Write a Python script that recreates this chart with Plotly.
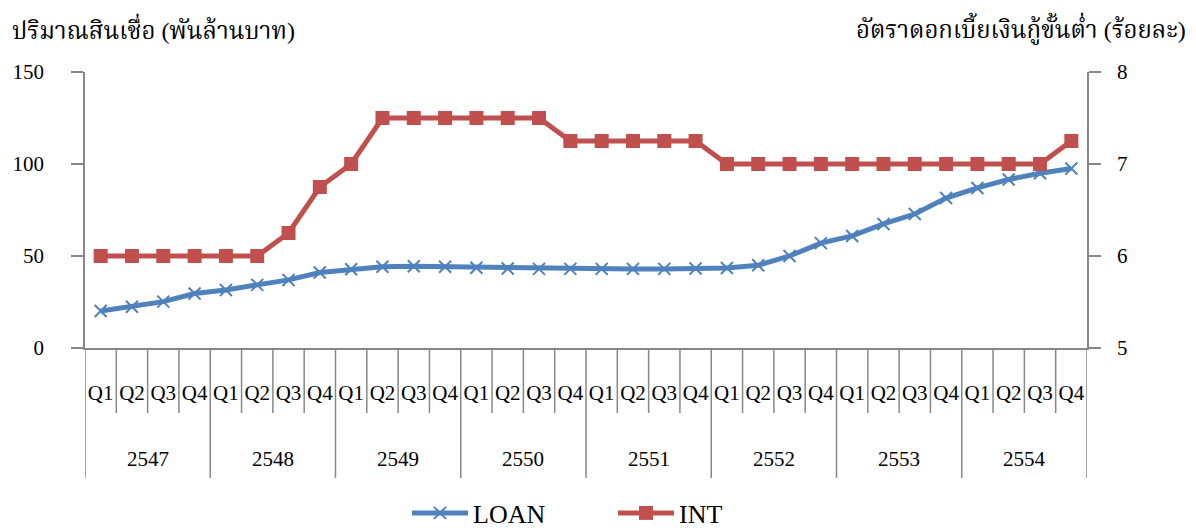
import plotly.graph_objects as go

years = ["2547", "2548", "2549", "2550", "2551", "2552", "2553", "2554"]
quarters = ["Q1", "Q2", "Q3", "Q4"]
loan = [20.1, 22.4, 25.2, 29.6, 31.5, 34.3, 37.0, 41.0,
        42.8, 44.2, 44.4, 44.2, 43.6, 43.2, 43.0, 43.0,
        43.0, 43.0, 43.0, 43.2, 43.5, 45.0, 50.0, 57.0,
        60.9, 67.4, 72.8, 81.5, 87.0, 91.6, 95.0, 97.6]
int_rate = [6.0, 6.0, 6.0, 6.0, 6.0, 6.0, 6.25, 6.75,
            7.0, 7.5, 7.5, 7.5, 7.5, 7.5, 7.5, 7.25,
            7.25, 7.25, 7.25, 7.25, 7.0, 7.0, 7.0, 7.0,
            7.0, 7.0, 7.0, 7.0, 7.0, 7.0, 7.0, 7.25]
left_title = "ปริมาณสินเชื่อ (พันล้านบาท)"
right_title = "อัตราดอกเบี้ยเงินกู้ขั้นต่ำ (ร้อยละ)"

n = len(years) * len(quarters)
xs = list(range(n))
qlabels = [q for _ in years for q in quarters]

FONT = "Liberation Serif, Times New Roman, Noto Serif Thai, serif"
AX = "#878787"
BLUE = "#4F81BD"
RED = "#C0504D"

fig = go.Figure()
fig.add_trace(go.Scatter(
    x=xs, y=loan, name="LOAN", mode="lines+markers",
    line=dict(color=BLUE, width=5),
    marker=dict(symbol="x-thin", size=12, line=dict(color=BLUE, width=2), color=BLUE),
    yaxis="y"))
fig.add_trace(go.Scatter(
    x=xs, y=int_rate, name="INT", mode="lines+markers",
    line=dict(color=RED, width=5),
    marker=dict(symbol="square", size=14, color=RED),
    yaxis="y2"))

PLOT_H = 276.0
shapes = []
for i in range(n + 1):
    is_year = (i % len(quarters) == 0)
    depth = (478 - 348) / PLOT_H if is_year else (413 - 348) / PLOT_H
    shapes.append(dict(type="line", xref="x", yref="paper",
                       x0=i - 0.5, x1=i - 0.5, y0=0, y1=-depth,
                       line=dict(color=AX, width=1.5)))

annotations = []
for k, yr in enumerate(years):
    annotations.append(dict(x=k * len(quarters) + (len(quarters) - 1) / 2, y=(348 - 459) / PLOT_H,
                            xref="x", yref="paper", text=yr, showarrow=False,
                            xanchor="center", yanchor="middle",
                            font=dict(family=FONT, size=21, color="#000")))
annotations.append(dict(x=(10 - 85) / 1002, y=1 + (72 - 29) / PLOT_H, xref="paper", yref="paper",
                        text=left_title, showarrow=False, xanchor="left", yanchor="middle",
                        font=dict(family=FONT, size=24, color="#000")))
annotations.append(dict(x=(1188 - 85) / 1002, y=1 + (72 - 29) / PLOT_H, xref="paper", yref="paper",
                        text=right_title, showarrow=False, xanchor="right", yanchor="middle",
                        font=dict(family=FONT, size=24, color="#000")))

fig.update_layout(
    width=1196, height=531,
    margin=dict(l=85, r=109, t=72, b=183, autoexpand=False),
    paper_bgcolor="white", plot_bgcolor="white",
    font=dict(family=FONT, size=21, color="#000"),
    showlegend=True,
    legend=dict(orientation="h", x=(407 - 85) / 1002, y=(348 - 513) / PLOT_H,
                xanchor="left", yanchor="middle", itemwidth=56,
                entrywidth=135, entrywidthmode="pixels",
                font=dict(family=FONT, size=26, color="#000"), bgcolor="rgba(0,0,0,0)"),
    xaxis=dict(range=[-0.5, n - 0.5], tickmode="array", tickvals=xs, ticktext=qlabels,
               showgrid=False, zeroline=False, showline=True, linecolor=AX, linewidth=1.5,
               ticks="", ticklabelstandoff=25, tickfont=dict(family=FONT, size=21, color="#000")),
    yaxis=dict(range=[0, 150], tickvals=[0, 50, 100, 150], showgrid=False, zeroline=False,
               showline=True, linecolor=AX, linewidth=1.5, ticks="outside", ticklen=12,
               tickcolor=AX, tickwidth=1.5, ticklabelstandoff=23,
               tickfont=dict(family=FONT, size=21, color="#000")),
    yaxis2=dict(range=[5, 8], tickvals=[5, 6, 7, 8], overlaying="y", side="right",
                showgrid=False, zeroline=False, showline=True, linecolor=AX, linewidth=1.5,
                ticks="outside", ticklen=12, tickcolor=AX, tickwidth=1.5, ticklabelstandoff=12,
                tickfont=dict(family=FONT, size=21, color="#000")),
    shapes=shapes, annotations=annotations,
)

fig.write_html("out.html", config={"displayModeBar": False},
               post_script="document.body.style.margin='0';")
